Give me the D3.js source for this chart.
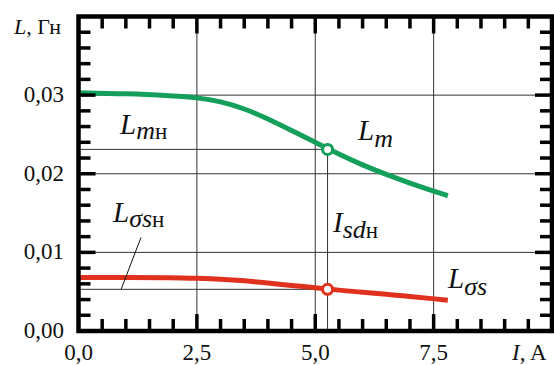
<!DOCTYPE html>
<html>
<head>
<meta charset="utf-8">
<script src="https://cdn.jsdelivr.net/npm/d3@7"></script>
<style>
  body { margin: 0; }
  svg, svg text { font-family: "Liberation Serif", "DejaVu Serif", serif !important; }
</style>
</head>
<body>
<svg id="plot" width="554" height="365" font-family="Liberation Serif"></svg>
<script>
// current I, A and the two inductances, H
const current = [0, 1, 2, 2.5, 3, 3.5, 4, 4.5, 5, 5.5, 6, 6.5, 7, 7.5, 7.8];
const lm      = [0.0303, 0.0302, 0.0299, 0.0297, 0.0292, 0.0283, 0.0270, 0.0255, 0.0240, 0.0225, 0.0211, 0.0199, 0.0188, 0.0178, 0.0172];
const lsigma  = [0.0068, 0.0068, 0.0068, 0.0067, 0.0066, 0.0064, 0.0061, 0.0058, 0.0055, 0.0052, 0.0049, 0.0047, 0.0044, 0.0041, 0.0039];

// rated point
const ratedI = 5.26;
const ratedLm = 0.0231;
const ratedLs = 0.0053;

const xTicks = [0, 2.5, 5, 7.5];
const xTickLabels = ["0,0", "2,5", "5,0", "7,5"];
const yTicks = [0, 0.01, 0.02, 0.03];
const yTickLabels = ["0,00", "0,01", "0,02", "0,03"];

const GREEN = "#14a05a";
const RED = "#e0301e";
const FONT = "Liberation Serif";

const svg = d3.select("#plot");
const x = d3.scaleLinear().domain([0, 10]).range([78.5, 552]);
const y = d3.scaleLinear().domain([0, 0.04]).range([331, 16.5]);
const [x0, x1] = x.range();
const [y0, y1] = y.range();

// grid
const grid = svg.append("g").attr("stroke", "#333").attr("stroke-width", 1);
xTicks.filter(v => v > 0).forEach(v => {
  grid.append("line").attr("x1", x(v)).attr("x2", x(v)).attr("y1", y0).attr("y2", y1);
});
yTicks.filter(v => v > 0).forEach(v => {
  grid.append("line").attr("x1", x0).attr("x2", x1).attr("y1", y(v)).attr("y2", y(v));
});

// rated point guide lines
grid.append("line").attr("x1", x0).attr("x2", x(ratedI)).attr("y1", y(ratedLm)).attr("y2", y(ratedLm));
grid.append("line").attr("x1", x(ratedI)).attr("x2", x(ratedI)).attr("y1", y(ratedLm)).attr("y2", y0);
grid.append("line").attr("x1", x0).attr("x2", x(ratedI)).attr("y1", y(ratedLs)).attr("y2", y(ratedLs));

// curves
const line = d3.line().x(d => x(d[0])).y(d => y(d[1])).curve(d3.curveBasis);
svg.append("path")
  .attr("d", line(d3.zip(current, lm)))
  .attr("fill", "none").attr("stroke", GREEN).attr("stroke-width", 5);
svg.append("path")
  .attr("d", line(d3.zip(current, lsigma)))
  .attr("fill", "none").attr("stroke", RED).attr("stroke-width", 5);

[[ratedLm, GREEN], [ratedLs, RED]].forEach(([v, c]) => {
  svg.append("circle")
    .attr("cx", x(ratedI)).attr("cy", y(v)).attr("r", 5)
    .attr("fill", "#fff").attr("stroke", c).attr("stroke-width", 3);
});

// frame
svg.append("rect")
  .attr("x", x0).attr("y", y1).attr("width", x1 - x0).attr("height", y0 - y1)
  .attr("fill", "none").attr("stroke", "#000").attr("stroke-width", 4.5);

// ticks on all four sides, pointing inward
const ticks = svg.append("g").attr("stroke", "#000").attr("stroke-width", 3.5);
d3.range(0.5, 10, 0.5).forEach(v => {
  const len = xTicks.includes(v) ? 17 : 12;
  ticks.append("line").attr("x1", x(v)).attr("x2", x(v)).attr("y1", y0).attr("y2", y0 - len);
  ticks.append("line").attr("x1", x(v)).attr("x2", x(v)).attr("y1", y1).attr("y2", y1 + len);
});
d3.range(1, 20).map(i => i * 0.002).forEach(v => {
  const major = yTicks.some(t => Math.abs(t - v) < 1e-9);
  const len = major ? 17 : 12;
  ticks.append("line").attr("x1", x0).attr("x2", x0 + len).attr("y1", y(v)).attr("y2", y(v));
  ticks.append("line").attr("x1", x1).attr("x2", x1 - len).attr("y1", y(v)).attr("y2", y(v));
});

// text helper: each part is its own <text>, laid out left to right
// parts = [[text, size, italic, dy]]
function label(px, py, parts, anchor = "start") {
  const els = parts.map(([s, size, italic, dy]) => {
    const t = svg.append("text")
      .attr("x", 0).attr("y", py + (dy || 0))
      .attr("font-family", FONT)
      .attr("font-size", size)
      .attr("fill", "#111")
      .text(s);
    if (italic) t.attr("font-style", "italic");
    return t;
  });
  const widths = els.map(t => t.node().getComputedTextLength());
  const total = d3.sum(widths);
  let cx = anchor === "middle" ? px - total / 2 : anchor === "end" ? px - total : px;
  els.forEach((t, i) => { t.attr("x", cx); cx += widths[i]; });
}

xTicks.forEach((v, i) => label(x(v), 360, [[xTickLabels[i], 23]], "middle"));
yTicks.forEach((v, i) => label(64, y(v) + 7, [[yTickLabels[i], 23]], "end"));

label(512, 360, [["I", 23, true], [", A", 23]]);
label(14, 34, [["L", 22, true], [", Гн", 22]]);

label(120, 134, [["L", 29, true], ["m", 26, true, 5], ["н", 23, false, 5]]);
label(358, 140, [["L", 29, true], ["m", 26, true, 7]]);
label(113, 222, [["L", 29, true], ["σs", 26, true, 5], ["н", 23, false, 5]]);
label(333, 232, [["I", 29, true], ["sd", 26, true, 6], ["н", 23, false, 6]]);
label(448, 288, [["L", 29, true], ["σs", 26, true, 7]]);

// leader from L_σsн label to its guide line
svg.append("line")
  .attr("x1", x(1.32)).attr("y1", y(0.0119))
  .attr("x2", x(0.9)).attr("y2", y(ratedLs))
  .attr("stroke", "#111").attr("stroke-width", 1);
</script>
</body>
</html>
